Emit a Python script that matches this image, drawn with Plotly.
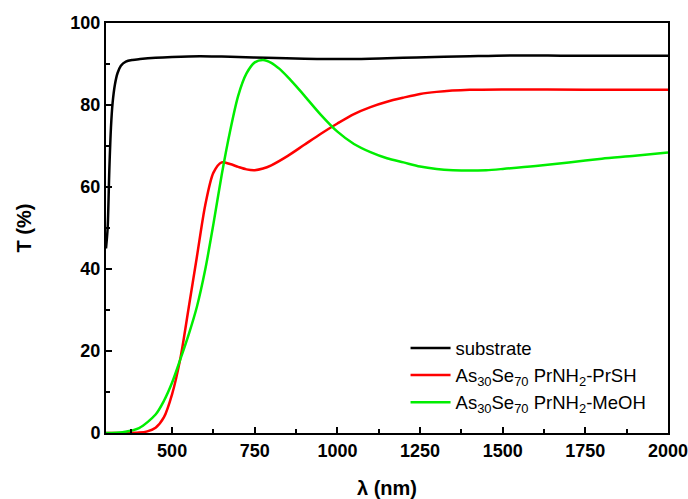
import plotly.graph_objects as go

# Substrate
sub_x = [300, 305, 310, 315, 320, 327, 335, 345, 360, 380, 403, 450, 500, 584, 650, 700, 785, 900, 1037, 1150, 1239, 1400, 1541, 1700, 1850, 2000]
sub_y = [45, 50, 64, 74.5, 80.5, 85, 87.8, 89.6, 90.6, 91.0, 91.2, 91.5, 91.7, 91.9, 91.8, 91.7, 91.5, 91.3, 91.2, 91.4, 91.6, 91.9, 92.1, 92.0, 92.0, 92.0]

# As30Se70 PrNH2-PrSH
red_x = [300, 350, 400, 425, 450, 475, 500, 525, 550, 575, 600, 625, 650, 675, 700, 725, 750, 775, 800, 850, 900, 950, 1000, 1050, 1100, 1150, 1200, 1250, 1300, 1400, 1500, 1750, 2000]
red_y = [0, 0, 0.1, 0.4, 1.3, 3.8, 9.5, 18.2, 30.5, 43, 55.5, 63.5, 66.0, 65.6, 64.9, 64.3, 64.1, 64.5, 65.3, 67.6, 70.3, 73.0, 75.5, 77.8, 79.5, 80.8, 81.8, 82.7, 83.2, 83.7, 83.8, 83.7, 83.7]

# As30Se70 PrNH2-MeOH
grn_x = [300, 350, 400, 450, 475, 500, 525, 550, 575, 600, 625, 650, 675, 700, 725, 750, 775, 800, 825, 850, 875, 900, 950, 1000, 1050, 1100, 1150, 1200, 1250, 1300, 1350, 1400, 1450, 1500, 1600, 1700, 1800, 1900, 2000]
grn_y = [0, 0.2, 1.2, 4.5, 7.8, 12.3, 18, 24, 30.8, 39.8, 51, 63, 73.5, 82.3, 87.7, 90.4, 91.0, 90.3, 88.8, 86.8, 84.6, 82.3, 77.6, 73.5, 70.5, 68.5, 67.0, 66.0, 65.0, 64.4, 64.1, 64.0, 64.1, 64.4, 65.1, 66.0, 66.9, 67.6, 68.4]

names = ["substrate",
         "As<sub>30</sub>Se<sub>70</sub> PrNH<sub>2</sub>-PrSH",
         "As<sub>30</sub>Se<sub>70</sub> PrNH<sub>2</sub>-MeOH"]
colors = ["#000000", "#ff0000", "#00ee00"]

fig = go.Figure()
for xs, ys, n, c in [(sub_x, sub_y, names[0], colors[0]),
                     (red_x, red_y, names[1], colors[1]),
                     (grn_x, grn_y, names[2], colors[2])]:
    fig.add_trace(go.Scatter(x=xs, y=ys, mode="lines", name=n,
                             line=dict(color=c, width=2.5, shape="spline", smoothing=0.8)))

font_family = "Liberation Sans, Arial, sans-serif"
fig.update_layout(
    width=688, height=499,
    margin=dict(l=106, r=20, t=23, b=66),
    plot_bgcolor="white", paper_bgcolor="white",
    font=dict(family=font_family, color="black"),
    legend=dict(x=0.533, y=0.028, xanchor="left", yanchor="bottom",
                bgcolor="rgba(0,0,0,0)", font=dict(size=18.5, family=font_family),
                tracegroupgap=0, itemwidth=40),
    showlegend=True,
)
fig.update_xaxes(
    range=[300, 2000], tickmode="linear", tick0=0, dtick=250,
    showline=True, linecolor="black", linewidth=2, mirror=True,
    ticks="inside", ticklen=6, tickwidth=2, tickcolor="black",
    minor=dict(ticks="inside", ticklen=4, tickwidth=2, dtick=125, tick0=0, tickcolor="black"),
    showgrid=False, zeroline=False, automargin=False, ticklabeloverflow="allow",
    tickfont=dict(size=18, weight="bold", family=font_family),
    title=dict(text="λ (nm)", font=dict(size=20, weight="bold", family=font_family), standoff=23),
)
fig.update_yaxes(
    range=[0, 100], tickmode="linear", tick0=0, dtick=20,
    showline=True, linecolor="black", linewidth=2, mirror=True,
    ticks="inside", ticklen=6, tickwidth=2, tickcolor="black",
    minor=dict(ticks="inside", ticklen=4, tickwidth=2, dtick=10, tick0=0, tickcolor="black"),
    showgrid=False, zeroline=False, automargin=False, ticklabeloverflow="allow",
    tickfont=dict(size=18, weight="bold", family=font_family),
    title=dict(text="T (%)", font=dict(size=20, weight="bold", family=font_family), standoff=33),
)
fig.write_html("out.html", config={"displayModeBar": False},
               post_script="document.body.style.margin='0';")
